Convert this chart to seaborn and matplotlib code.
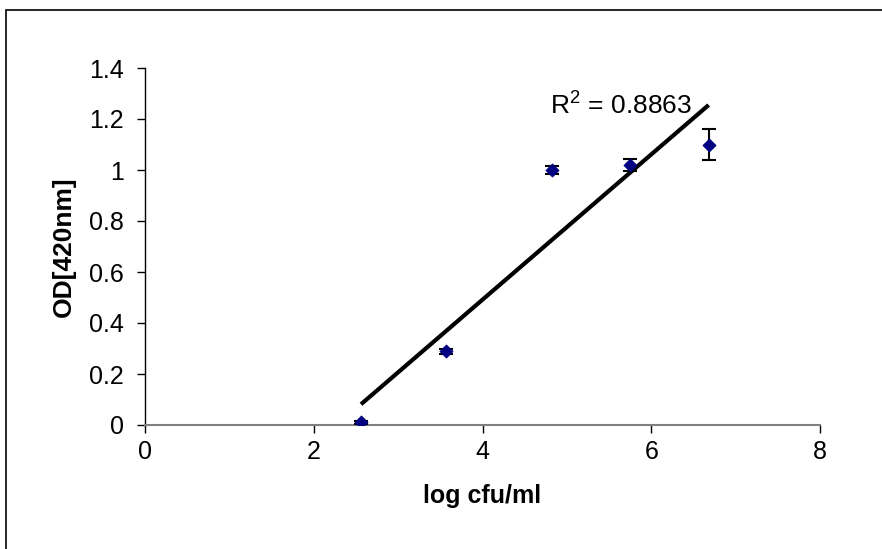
import matplotlib
matplotlib.use("Agg")
import matplotlib.pyplot as plt
import seaborn as sns
import pandas as pd
from matplotlib.patches import Rectangle

log_cfu = [2.56, 3.57, 4.82, 5.75, 6.68]
od420 = [0.01, 0.29, 1.00, 1.02, 1.10]
od_err = [0.005, 0.01, 0.015, 0.025, 0.06]
r2_label = "R$^2$ = 0.8863"
x_ticks = [0, 2, 4, 6, 8]
y_ticks = [0, 0.2, 0.4, 0.6, 0.8, 1, 1.2, 1.4]
y_tick_labels = ["0", "0.2", "0.4", "0.6", "0.8", "1", "1.2", "1.4"]

df = pd.DataFrame({"x": log_cfu, "y": od420, "err": od_err})

sns.set_theme(style="white")
plt.rcParams["font.family"] = ["Liberation Sans", "DejaVu Sans"]
plt.rcParams["mathtext.fontset"] = "custom"
plt.rcParams["mathtext.rm"] = "Liberation Sans"
plt.rcParams["text.color"] = "black"
plt.rcParams["axes.labelcolor"] = "black"

fig = plt.figure(figsize=(8.82, 5.49), dpi=100)
ax = fig.add_axes([145/882, 1-425/549, (820-145)/882, (425-68)/549])

sns.regplot(data=df, x="x", y="y", scatter=False, ci=None, color="black",
            line_kws={"lw": 3, "solid_capstyle": "butt"}, ax=ax)
ax.errorbar(df["x"], df["y"], yerr=df["err"], fmt="none", ecolor="black",
            elinewidth=1.5, capsize=5, capthick=1.5, zorder=3)
sns.scatterplot(data=df, x="x", y="y", marker="D", color="#000080", s=45,
                edgecolor="#000080", ax=ax, zorder=4)

ax.text(4.8, 1.255, r2_label, fontsize=19, va="center", ha="left", color="black")

ax.set_xlim(0, 8)
ax.set_ylim(0, 1.4)
ax.set_xticks(x_ticks)
ax.set_xticklabels([str(t) for t in x_ticks])
ax.set_yticks(y_ticks)
ax.set_yticklabels(y_tick_labels)
ax.tick_params(axis="both", direction="out", length=6, width=1, colors="black",
               labelsize=18, bottom=True, left=True)
ax.tick_params(axis="y", pad=9)
ax.tick_params(axis="x", pad=5)
for s in ["top", "right"]:
    ax.spines[s].set_visible(False)
ax.spines["left"].set_color("black")
ax.spines["bottom"].set_color("#808080")
ax.spines["left"].set_linewidth(1)
ax.spines["bottom"].set_linewidth(1.5)

ax.set_xlabel("log cfu/ml", fontsize=18, fontweight="bold", labelpad=14)
ax.set_ylabel("OD[420nm]", fontsize=19, fontweight="bold", labelpad=10)

fig.patches.append(Rectangle((6/882, -0.01), 1.0, 1 - 10/549 + 0.01, transform=fig.transFigure,
                             fill=False, edgecolor="black", lw=1.2))

fig.savefig("out.png", dpi=100)
